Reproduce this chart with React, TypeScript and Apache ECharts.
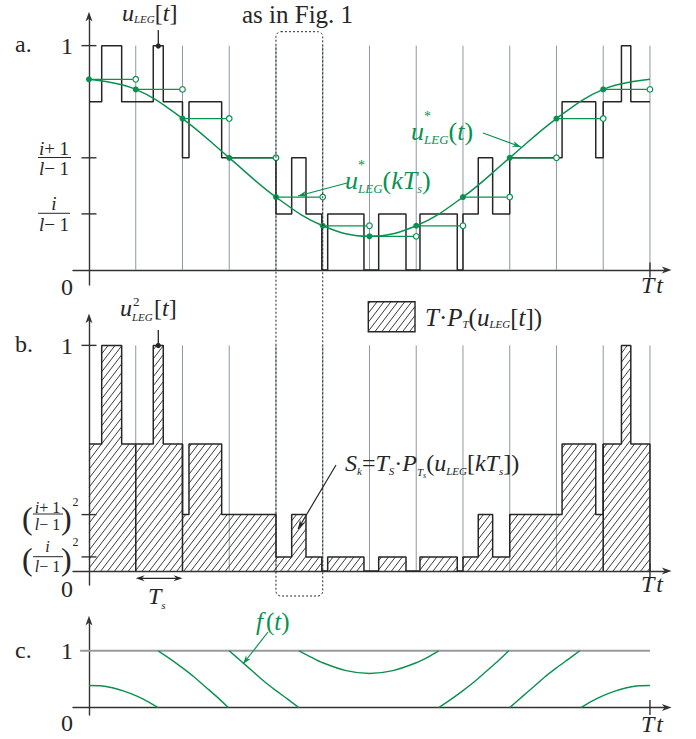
import React, { useEffect, useRef } from 'react';
import * as echarts from 'echarts';

// ---------------- data ----------------
const sampleIndex = [0, 1, 2, 3, 4, 5, 6, 7, 8, 9, 10, 11, 12];
const sampleValues = [0.85, 0.805, 0.675, 0.5, 0.325, 0.197, 0.15, 0.197, 0.325, 0.5, 0.675, 0.805, 0.85];
const quantLevels = [0, 0.25, 0.5, 0.75, 1];
const quantLevelsSquared = [0, 0.0625, 0.25, 0.5625, 1];
const stepStarts = [0, 0.272, 0.699, 1.375, 1.589, 2, 2.139, 2.838, 4, 4.336, 4.642, 4.98, 5.106, 5.882, 6.197, 6.781, 7.08, 7.878, 8, 8.327, 8.635, 9, 10.12, 10.84, 11, 11.39, 11.59];
const stepLevelIdx = [3, 4, 3, 4, 3, 2, 3, 2, 1, 2, 1, 0, 1, 0, 1, 0, 1, 0, 1, 2, 1, 2, 3, 2, 3, 4, 3];
const stepEnd = 12;
const gridTimes = [1, 2, 3, 4, 5, 6, 7, 8, 9, 10, 11, 12];
const ticksA = [1, 0.5, 0.25];
const ticksB = [1, 0.25, 0.0625];
const dividersB = [1, 2, 11];
const oneLineC = [[-0.19, 1], [12, 1]];
const fSegments = [
  [[0, 0.39], [0.25, 0.385], [0.5, 0.35], [0.75, 0.29], [1, 0.21], [1.25, 0.11], [1.48, 0]],
  [[1.48, 1], [1.75, 0.85], [2, 0.7], [2.25, 0.54], [2.5, 0.36], [2.75, 0.18], [2.98, 0]],
  [[3, 1], [3.25, 0.82], [3.5, 0.64], [3.75, 0.46], [4, 0.3], [4.25, 0.15], [4.49, 0]],
  [[4.49, 1], [4.75, 0.89], [5, 0.79], [5.5, 0.65], [6, 0.6], [6.5, 0.65], [7, 0.79], [7.25, 0.89], [7.48, 1]],
  [[7.48, 0], [7.75, 0.15], [8, 0.3], [8.25, 0.46], [8.5, 0.64], [8.75, 0.82], [8.98, 1]],
  [[9.0, 0], [9.25, 0.18], [9.5, 0.36], [9.75, 0.54], [10, 0.7], [10.25, 0.85], [10.5, 1]],
  [[10.52, 0], [10.75, 0.11], [11, 0.21], [11.25, 0.29], [11.5, 0.35], [11.75, 0.385], [12, 0.39]],
];

// ---------------- layout / style ----------------
const X_MIN = -0.342;
const X_MAX = 12.358;
const G_LEFT = 73;
const G_WIDTH = 593.7;
const GREEN = '#0a9150';
const INK = '#262626';
const AXIS = '#333';
const GRAYLINE = '#8d99a5';
const FONT = 'Liberation Serif';

const px = (t: number) => G_LEFT + ((t - X_MIN) / (X_MAX - X_MIN)) * G_WIDTH;

function levelAt(t: number, levels: number[]) {
  let idx = 0;
  for (let i = 0; i < stepStarts.length; i++) if (stepStarts[i] <= t) idx = i;
  return levels[stepLevelIdx[idx]];
}

function hatch(x0: number, y0: number, x1: number, y1: number, k = 1.3, gap = 9) {
  const out: any[] = [];
  const cmin = k * x0 + y0;
  const cmax = k * x1 + y1;
  const start = Math.ceil(cmin / gap) * gap;
  for (let c = start; c <= cmax; c += gap) {
    const xa = Math.max(x0, (c - y1) / k);
    const xb = Math.min(x1, (c - y0) / k);
    if (xb - xa > 0.05) out.push({ x1: xa, y1: c - k * xa, x2: xb, y2: c - k * xb });
  }
  return out;
}

let measureCtx: CanvasRenderingContext2D | null = null;
function measure(text: string, size: number, italic?: boolean) {
  if (!measureCtx) measureCtx = document.createElement('canvas').getContext('2d');
  if (!measureCtx) return text.length * size * 0.5;
  measureCtx.font = `${italic ? 'italic ' : ''}${size}px "${FONT}"`;
  return measureCtx.measureText(text).width;
}

type Part = [string, number, boolean?, number?, number?];
function textEl(x: number, y: number, text: string, size: number, italic: boolean, color: string) {
  return {
    type: 'text',
    x,
    y,
    z: 50,
    silent: true,
    style: {
      text,
      fill: color,
      fontSize: size,
      fontFamily: FONT,
      fontStyle: italic ? 'italic' : 'normal',
      align: 'left',
      verticalAlign: 'middle',
      textAlign: 'left',
      textVerticalAlign: 'middle',
    },
  };
}
function runs(x: number, y: number, parts: Part[], color = INK) {
  const els: any[] = [];
  let cx = x;
  for (const p of parts) {
    const [text, size, italic = false, dy = 0, dx = 0] = p;
    cx += dx;
    els.push(textEl(cx, y + dy, text, size, italic, color));
    cx += measure(text, size, italic);
  }
  return els;
}
function runsCentered(cx: number, y: number, parts: Part[], color = INK) {
  let w = 0;
  for (const p of parts) w += measure(p[0], p[1], p[2]) + (p[4] || 0);
  return runs(cx - w / 2, y, parts, color);
}
function seg(x1: number, y1: number, x2: number, y2: number, color = INK, w = 1) {
  return { type: 'line', z: 50, silent: true, shape: { x1, y1, x2, y2 }, style: { stroke: color, lineWidth: w } };
}
function arrowHead(x1: number, y1: number, x2: number, y2: number, color: string, head = 9, w = 3) {
  const dx = x2 - x1, dy = y2 - y1;
  const L = Math.hypot(dx, dy);
  const ux = dx / L, uy = dy / L;
  const bx = x2 - ux * head, by = y2 - uy * head;
  return {
    type: 'polygon',
    z: 51,
    silent: true,
    shape: { points: [[x2, y2], [bx - uy * w, by + ux * w], [bx + ux * 3, by + uy * 3], [bx + uy * w, by - ux * w]] },
    style: { fill: color },
  };
}
function arrow(x1: number, y1: number, x2: number, y2: number, color: string) {
  return [seg(x1, y1, x2, y2, color, 1.2), arrowHead(x1, y1, x2, y2, color)];
}

function buildOption() {
  const ySets = [
    { top: 16.7, height: 268.3, min: -0.067, max: 1.129 },
    { top: 318.3, height: 266.7, min: -0.062, max: 1.12 },
    { top: 620.7, height: 94.3, min: -0.13, max: 1.53 },
  ];
  const arrowSym = 'path://M5,0 L10,14 L5,10 L0,14 Z';
  const grid = ySets.map((s) => ({ left: G_LEFT, width: G_WIDTH, top: s.top, height: s.height, containLabel: false }));
  const xAxis = ySets.map((_, i) => ({
    type: 'value',
    gridIndex: i,
    min: X_MIN,
    max: X_MAX,
    axisLine: { show: true, onZero: true, symbol: ['none', arrowSym], symbolSize: [7, 11], lineStyle: { color: AXIS, width: 1.4 } },
    axisTick: { show: false },
    axisLabel: { show: false },
    splitLine: { show: false },
  }));
  const yAxis = ySets.map((s, i) => ({
    type: 'value',
    gridIndex: i,
    min: s.min,
    max: s.max,
    axisLine: { show: true, onZero: true, symbol: ['none', arrowSym], symbolSize: [7, 11], lineStyle: { color: AXIS, width: 1.4 } },
    axisTick: { show: false },
    axisLabel: { show: false },
    splitLine: { show: false },
  }));

  const vlineRender = (params: any, api: any) => {
    const a = api.coord([api.value(0), 0]);
    const b = api.coord([api.value(0), 1]);
    return { type: 'line', shape: { x1: a[0], y1: a[1], x2: b[0], y2: b[1] }, style: { stroke: GRAYLINE, lineWidth: 1 } };
  };
  const tickRender = (params: any, api: any) => {
    const c = api.coord([api.value(0), api.value(1)]);
    const vertical = api.value(2) === 1;
    const shape = vertical
      ? { x1: c[0], y1: c[1] - 7.5, x2: c[0], y2: c[1] + 7.5 }
      : { x1: c[0] - 7.5, y1: c[1], x2: c[0] + 7.5, y2: c[1] };
    return { type: 'line', shape, style: { stroke: AXIS, lineWidth: 1.4 } };
  };

  const stepA = stepStarts.map((t, i) => [t, quantLevels[stepLevelIdx[i]]]);
  stepA.push([stepEnd, quantLevels[stepLevelIdx[stepLevelIdx.length - 1]]]);
  const stepB = stepStarts.map((t, i) => [t, quantLevelsSquared[stepLevelIdx[i]]]);
  stepB.push([stepEnd, 0]);
  const hatchData: number[][] = [];
  stepStarts.forEach((t, i) => {
    const t1 = i + 1 < stepStarts.length ? stepStarts[i + 1] : stepEnd;
    const v = quantLevelsSquared[stepLevelIdx[i]];
    if (v > 0) hatchData.push([t, t1, v]);
  });

  const series: any[] = [
    // ---- panel a ----
    { type: 'custom', xAxisIndex: 0, yAxisIndex: 0, silent: true, z: 1, data: gridTimes.map((t) => [t, 1]), renderItem: vlineRender },
    { type: 'line', xAxisIndex: 0, yAxisIndex: 0, silent: true, z: 3, step: 'end', symbol: 'none', data: stepA, lineStyle: { color: INK, width: 1.5 } },
    { type: 'line', xAxisIndex: 0, yAxisIndex: 0, silent: true, z: 4, smooth: 0.4, symbol: 'none', data: sampleIndex.map((k) => [k, sampleValues[k]]), lineStyle: { color: GREEN, width: 1.5 } },
    {
      type: 'custom', xAxisIndex: 0, yAxisIndex: 0, silent: true, z: 5,
      data: sampleIndex.slice(0, 12).map((k) => [k, sampleValues[k], k + 1]),
      renderItem: (params: any, api: any) => {
        const a = api.coord([api.value(0), api.value(1)]);
        const b = api.coord([api.value(2), api.value(1)]);
        return {
          type: 'group',
          children: [
            { type: 'line', shape: { x1: a[0], y1: a[1], x2: b[0] - 3, y2: b[1] }, style: { stroke: GREEN, lineWidth: 1.3 } },
            { type: 'circle', shape: { cx: a[0], cy: a[1], r: 3 }, style: { fill: GREEN } },
            { type: 'circle', shape: { cx: b[0], cy: b[1], r: 2.8 }, style: { fill: '#fff', stroke: GREEN, lineWidth: 1.2 } },
          ],
        };
      },
    },
    { type: 'custom', xAxisIndex: 0, yAxisIndex: 0, silent: true, z: 6, data: [...ticksA.map((v) => [0, v, 0]), [12, 0, 1]], renderItem: tickRender },
    // ---- panel b ----
    { type: 'custom', xAxisIndex: 1, yAxisIndex: 1, silent: true, z: 1, data: gridTimes.map((t) => [t, 1]), renderItem: vlineRender },
    {
      type: 'custom', xAxisIndex: 1, yAxisIndex: 1, silent: true, z: 2, data: hatchData,
      renderItem: (params: any, api: any) => {
        const a = api.coord([api.value(0), api.value(2)]);
        const b = api.coord([api.value(1), 0]);
        return {
          type: 'group',
          children: hatch(a[0], a[1], b[0], b[1]).map((s) => ({ type: 'line', shape: s, style: { stroke: INK, lineWidth: 0.9 } })),
        };
      },
    },
    { type: 'line', xAxisIndex: 1, yAxisIndex: 1, silent: true, z: 3, step: 'end', symbol: 'none', data: stepB, lineStyle: { color: INK, width: 1.5 } },
    {
      type: 'custom', xAxisIndex: 1, yAxisIndex: 1, silent: true, z: 3,
      data: dividersB.map((t) => [t, Math.max(levelAt(t - 0.01, quantLevelsSquared), levelAt(t + 0.01, quantLevelsSquared))]),
      renderItem: (params: any, api: any) => {
        const a = api.coord([api.value(0), 0]);
        const b = api.coord([api.value(0), api.value(1)]);
        return { type: 'line', shape: { x1: a[0], y1: a[1], x2: b[0], y2: b[1] }, style: { stroke: INK, lineWidth: 1.5 } };
      },
    },
    { type: 'custom', xAxisIndex: 1, yAxisIndex: 1, silent: true, z: 6, data: [...ticksB.map((v) => [0, v, 0]), [12, 0, 1]], renderItem: tickRender },
    // ---- panel c ----
    { type: 'line', xAxisIndex: 2, yAxisIndex: 2, silent: true, z: 2, symbol: 'none', data: oneLineC, lineStyle: { color: '#9a9a9a', width: 2 } },
    ...fSegments.map((s) => ({ type: 'line', xAxisIndex: 2, yAxisIndex: 2, silent: true, z: 4, smooth: 0.3, symbol: 'none', data: s, lineStyle: { color: GREEN, width: 1.4 } })),
    { type: 'custom', xAxisIndex: 2, yAxisIndex: 2, silent: true, z: 6, data: [[12, 0, 1]], renderItem: tickRender },
  ];

  // ---------------- annotations ----------------
  const g: any[] = [];
  // dotted "as in Fig. 1" box
  g.push({
    type: 'rect', z: 40, silent: true,
    shape: { x: px(4), y: 31.7, width: px(5) - px(4), height: 564.3, r: 5 },
    style: { fill: 'none', stroke: INK, lineWidth: 1, lineDash: [2, 2] },
  });
  g.push(...runs(242, 14, [['as in Fig. 1', 25]]));

  // panel a labels
  g.push(...runs(15, 44, [['a.', 24]]));
  g.push(...runs(61, 46, [['1', 24]]));
  g.push(...runsCentered(54, 148, [['i', 19, true], ['+ 1', 19]]));
  g.push(seg(38, 157.5, 71, 157.5, INK, 1));
  g.push(...runsCentered(54, 168, [['l', 19, true], ['− 1', 19]]));
  g.push(...runsCentered(54, 203.5, [['i', 19, true]]));
  g.push(seg(38, 213.3, 70, 213.3, INK, 1));
  g.push(...runsCentered(54, 224, [['l', 19, true], ['− 1', 19]]));
  g.push(...runs(61, 287, [['0', 24]]));
  g.push(...runs(641, 285, [['T', 24, true], ['t', 24, true, 0, 2]]));
  g.push(...runs(122, 13, [['u', 24, true], ['LEG', 11, true, 6], ['[', 24], ['t', 24, true], [']', 24]]));
  g.push(seg(158.3, 30, 158.3, 46, INK, 1.3));
  g.push({ type: 'circle', z: 51, silent: true, shape: { cx: 158.3, cy: 46, r: 2.6 }, style: { fill: INK } });
  // green labels
  const uw = measure('u', 26, true);
  g.push(...runs(411, 131, [['u', 26, true], ['LEG', 13, true, 8], ['(', 26], ['t', 26, true], [')', 26]], GREEN));
  g.push(...runs(411 + uw, 116, [['*', 14]], GREEN));
  g.push(...arrow(483, 133, 521, 147, GREEN));
  g.push(...runs(345, 180, [['u', 26, true], ['LEG', 13, true, 8], ['(', 26], ['k', 26, true], ['T', 26, true], ['s', 12, true, 9], [')', 26]], GREEN));
  g.push(...runs(345 + uw, 165, [['*', 14]], GREEN));
  g.push(...arrow(347, 183, 298, 196, GREEN));

  // panel b labels
  g.push(...runs(15, 344, [['b.', 24]]));
  g.push(...runs(61, 346, [['1', 24]]));
  g.push(...runs(22, 518, [['(', 32]]));
  g.push(...runsCentered(47.5, 507, [['i', 16, true], ['+ 1', 16]]));
  g.push(seg(33, 514, 63, 514, INK, 1));
  g.push(...runsCentered(47.5, 524, [['l', 16, true], ['− 1', 16]]));
  g.push(...runs(61, 518, [[')', 32]]));
  g.push(...runs(72.5, 502, [['2', 12]]));
  g.push(...runs(22, 559, [['(', 32]]));
  g.push(...runsCentered(47.5, 546, [['i', 16, true]]));
  g.push(seg(33, 556.7, 63, 556.7, INK, 1));
  g.push(...runsCentered(47.5, 566, [['l', 16, true], ['− 1', 16]]));
  g.push(...runs(61, 559, [[')', 32]]));
  g.push(...runs(72.5, 542, [['2', 12]]));
  g.push(...runs(61, 589, [['0', 24]]));
  g.push(...runs(641, 584, [['T', 24, true], ['t', 24, true, 0, 2]]));
  g.push(...runs(120, 308, [['u', 24, true]]));
  g.push(...runs(120 + measure('u', 24, true) + 1, 301, [['2', 13]]));
  g.push(...runs(132, 317, [['LEG', 11, true]]));
  g.push(...runs(154, 308, [['[', 24], ['t', 24, true], [']', 24]]));
  g.push(seg(158.3, 330, 158.3, 345.5, INK, 1.3));
  g.push({ type: 'circle', z: 51, silent: true, shape: { cx: 158.3, cy: 345.5, r: 2.6 }, style: { fill: INK } });
  // legend
  g.push({ type: 'rect', z: 50, silent: true, shape: { x: 368.3, y: 301.7, width: 46.7, height: 30 }, style: { fill: 'none', stroke: INK, lineWidth: 1.4 } });
  hatch(368.3, 301.7, 415, 331.7).forEach((s) => g.push(seg(s.x1, s.y1, s.x2, s.y2, INK, 0.9)));
  g.push(...runs(425, 317, [['T', 25, true], ['·', 25], ['P', 25, true], ['T', 11, true, 7], ['(', 25], ['u', 25, true], ['LEG', 11, true, 7], ['[', 25], ['t', 25, true], [']', 25], [')', 25]]));
  // S_k
  g.push(...runs(345, 463, [
    ['S', 24, true], ['k', 11, true, 8], ['=', 24], ['T', 24, true], ['S', 11, true, 8], ['·', 24], ['P', 24, true],
    ['T', 11, true, 9], ['s', 8, true, 12], ['(', 24], ['u', 24, true], ['LEG', 11, true, 8], ['[', 24], ['k', 24, true],
    ['T', 24, true], ['s', 11, true, 8], [']', 24], [')', 24],
  ]));
  g.push(...arrow(336, 465, 298, 529, INK));
  // Ts double arrow
  g.push(seg(px(1) + 3, 578.3, px(2) - 3, 578.3, INK, 1.2));
  g.push(arrowHead(px(2), 578.3, px(1), 578.3, INK, 9, 3));
  g.push(arrowHead(px(1), 578.3, px(2), 578.3, INK, 9, 3));
  g.push(...runs(148, 596, [['T', 24, true], ['s', 11, true, 9]]));

  // panel c labels
  g.push(...runs(15, 650, [['c.', 24]]));
  g.push(...runs(61, 651, [['1', 24]]));
  g.push(...runs(61, 723, [['0', 24]]));
  g.push(...runs(641, 724, [['T', 24, true], ['t', 24, true, 0, 2]]));
  g.push(...runs(256, 621, [['f', 25, true], ['(', 25, false, 0, 3], ['t', 25, true], [')', 25]], GREEN));
  g.push(...arrow(268, 632, 243, 664, GREEN));

  return {
    animation: false,
    backgroundColor: '#fff',
    grid,
    xAxis,
    yAxis,
    series,
    graphic: { elements: g },
  };
}

export default function App() {
  const ref = useRef<HTMLDivElement>(null);
  useEffect(() => {
    document.body.style.margin = '0';
    if (!ref.current) return;
    const chart = echarts.init(ref.current, null, { renderer: 'svg' });
    chart.setOption(buildOption() as any);
    return () => chart.dispose();
  }, []);
  return <div ref={ref} style={{ width: 696, height: 739 }} />;
}
